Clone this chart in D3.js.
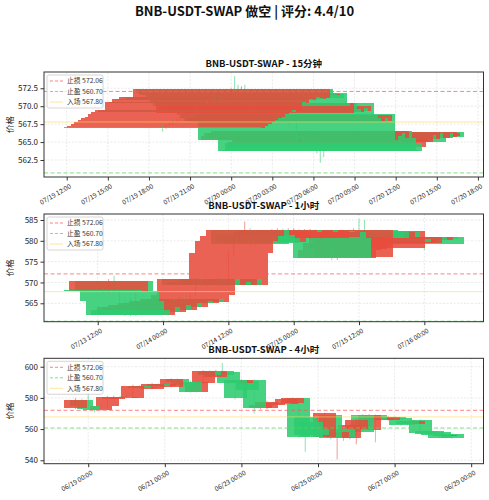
<!DOCTYPE html>
<html><head><meta charset="utf-8">
<script src="https://cdn.jsdelivr.net/npm/d3@7"></script>
<style>
body{margin:0;background:#fff}
text{font-family:"Noto Sans CJK SC","DejaVu Sans",sans-serif}
</style>
</head><body>
<svg id="c" width="489" height="500"></svg>
<script>
const mainTitle = "BNB-USDT-SWAP 做空 | 评分: 4.4/10";
const levelNames = ["止损", "止盈", "入场"];
const levelValues = [572.06, 560.70, 567.80];

// ---------- 15 minute ----------
const m15Title = "BNB-USDT-SWAP - 15分钟";
const m15Start = "2025-07-19 19:00", m15Step = 15;
const m15Open  = [567.15,566.90,567.30,567.50,567.76,568.08,568.30,568.54,568.87,569.15,569.43,569.25,569.40,570.63,570.45,570.96,570.80,571.24,571.10,571.00,571.20,572.36,571.80,571.50,571.70,571.80,570.40,569.00,570.40,569.60,569.20,569.80,569.40,570.40,568.80,568.40,568.00,568.30,568.00,568.90,565.30,565.80,566.20,565.60,566.60,565.60,563.90,564.90,564.36,565.00,565.05,566.00,565.40,566.20,565.60,565.50,566.30,565.75,565.90,566.45];
const m15High  = [567.40,567.45,567.65,567.90,568.20,568.45,568.70,569.00,569.30,569.60,569.55,569.60,570.80,570.75,571.10,571.10,571.40,571.35,571.20,571.35,572.50,574.20,573.00,572.80,573.00,572.00,570.60,570.60,570.50,569.80,570.10,570.00,570.20,570.60,569.00,568.60,568.50,568.40,569.00,569.10,566.00,566.40,566.30,566.70,566.70,565.80,564.20,565.00,565.30,565.60,566.30,566.20,566.40,566.40,565.80,566.60,566.50,566.60,566.40,566.60];
const m15Low   = [566.45,566.85,567.20,567.40,567.65,567.95,568.20,568.40,568.75,569.00,569.05,569.10,569.30,570.20,570.30,570.60,570.70,570.95,570.85,570.90,571.10,571.60,571.20,571.30,571.00,570.20,569.80,568.80,569.30,568.90,569.00,569.10,569.20,568.50,568.10,567.70,567.80,567.50,567.80,565.00,565.10,565.60,565.40,565.50,565.40,563.40,562.10,562.90,564.10,564.80,564.90,565.20,565.20,565.40,564.80,565.30,565.30,565.60,565.70,565.50];
const m15Close = [566.90,567.30,567.50,567.76,568.08,568.30,568.54,568.87,569.15,569.43,569.25,569.40,570.63,570.45,570.96,570.80,571.24,571.10,571.00,571.20,572.36,571.80,571.50,571.70,571.20,570.40,570.00,570.40,569.60,569.20,569.80,569.40,570.00,568.80,568.40,568.00,568.30,567.80,568.80,565.30,565.80,566.20,565.60,566.60,565.60,563.70,563.70,563.70,565.00,565.40,566.00,565.40,566.20,565.60,565.05,566.30,565.50,566.40,566.30,565.75];

// ---------- 1 hour ----------
const h1Title = "BNB-USDT-SWAP - 1小时";
const h1Start = "2025-07-13 13:00", h1Step = 60;
const h1Open  = [568.10,567.90,570.36,567.96,565.60,563.50,562.20,564.00,563.00,564.50,563.50,565.00,564.00,565.50,565.00,566.00,565.20,567.00,570.80,569.50,570.00,569.50,570.80,569.40,577.00,580.00,581.20,582.60,581.50,580.60,579.80,580.60,581.00,582.60,580.80,580.60,582.60,581.00,580.70,582.40,580.80,582.20,580.60,575.80,577.80,578.00,576.20,582.60,582.40,582.40,580.60,582.00,578.20,580.40,579.50,579.40,581.00,580.20,581.00,580.80];
const h1High  = [568.50,570.80,571.60,568.30,566.00,566.50,567.80,564.50,565.50,566.00,565.40,565.30,566.00,566.00,566.50,566.30,567.40,571.00,571.20,570.50,570.30,571.00,571.00,577.50,580.50,581.80,584.60,583.00,582.60,581.00,581.50,582.80,583.00,582.90,583.00,583.00,582.80,582.80,582.90,582.70,582.60,582.50,581.00,578.30,580.00,581.40,583.00,585.30,585.00,582.60,582.40,582.30,582.60,580.80,580.70,581.40,581.30,581.40,581.20,581.00];
const h1Low   = [567.50,567.60,567.50,565.20,562.00,561.90,562.00,562.60,562.80,563.20,563.20,563.70,563.80,564.70,564.80,564.90,565.00,566.80,569.20,569.00,569.10,569.30,569.00,569.20,576.50,579.50,580.80,578.80,579.00,579.20,579.50,580.30,580.80,581.60,580.50,580.40,581.80,580.70,580.40,581.60,580.50,580.20,575.40,575.40,577.40,577.60,576.00,581.00,580.30,580.40,580.50,580.80,577.80,579.50,579.30,579.20,579.90,579.90,580.30,577.80];
const h1Close = [567.90,570.36,567.96,565.60,562.30,562.10,564.00,563.00,564.50,563.50,565.00,564.00,565.50,565.00,566.00,565.20,567.00,570.80,569.50,570.00,569.50,570.80,569.40,577.00,580.00,581.20,582.60,579.20,579.80,579.50,581.00,582.00,582.60,582.00,582.40,582.60,582.20,582.50,582.40,582.00,582.20,580.60,575.80,577.80,579.50,581.00,582.60,581.40,580.60,580.60,582.00,581.00,582.40,579.80,580.50,581.00,580.20,581.00,580.50,579.20];

// ---------- 4 hour ----------
const h4Title = "BNB-USDT-SWAP - 4小时";
const h4Start = "2025-06-18 16:00", h4Step = 240;
const h4Open  = [573.30,578.40,574.50,573.00,572.50,574.50,579.50,580.80,580.20,580.10,587.60,586.10,586.00,588.70,587.50,587.20,591.90,590.50,590.40,584.00,589.30,597.20,593.60,597.00,596.40,591.50,589.30,591.00,591.50,573.30,573.30,575.50,577.00,575.90,576.50,579.70,568.00,564.80,560.00,555.20,569.00,554.50,560.00,554.10,560.00,569.00,559.40,569.00,566.00,565.80,568.00,567.30,565.00,563.10,565.80,558.80,558.80,558.40,555.30,556.90];
const h4High  = [580.00,579.50,583.00,574.00,575.50,581.20,581.50,581.30,582.00,588.50,588.20,587.50,589.50,589.20,589.80,592.50,592.40,591.00,591.00,590.50,597.80,597.60,598.00,602.30,597.00,592.00,592.00,591.50,592.00,576.00,578.20,577.60,577.50,579.50,580.20,580.00,568.50,565.50,560.50,570.60,569.50,558.50,560.50,563.00,566.50,569.50,569.50,569.30,568.00,568.50,568.30,567.80,565.50,565.80,566.20,559.20,559.00,558.80,556.80,557.20];
const h4Low   = [572.80,574.00,572.50,570.70,571.80,574.00,579.00,579.60,579.80,579.80,585.60,585.80,585.50,586.80,587.00,586.80,590.00,587.50,583.50,583.60,589.00,594.00,593.00,594.50,588.80,579.00,588.80,584.50,570.00,572.80,572.80,575.00,575.50,575.50,576.00,554.50,545.50,554.80,555.00,554.80,553.50,540.50,552.40,553.50,550.20,558.00,559.00,551.50,565.50,565.40,566.00,562.20,562.50,562.80,556.80,556.50,555.80,554.20,554.90,553.80];
const h4Close = [578.70,574.50,573.00,572.40,574.50,580.50,580.80,580.20,580.80,587.60,586.10,587.00,588.70,587.50,589.00,591.90,590.50,588.00,584.00,590.00,597.20,594.50,597.20,595.00,589.30,579.70,591.50,585.00,573.30,575.50,577.60,577.00,576.00,579.00,579.70,555.20,556.00,555.20,556.00,570.10,554.10,558.00,555.00,562.60,566.00,558.40,569.00,566.00,567.50,568.00,566.50,562.60,563.00,565.40,557.30,557.00,556.20,554.60,556.40,554.10];

// tick settings
const yTicks1 = [562.5, 565.0, 567.5, 570.0, 572.5];
const yTicks2 = [565, 570, 575, 580, 585];
const yTicks3 = [540, 560, 580, 600];
const yDomains = [[560.13, 574.77], [560.58, 586.44], [537.8, 605.4]];

const parse = d3.timeParse("%Y-%m-%d %H:%M");
const fmt = d3.timeFormat("%m/%d %H:%M");

const panels = [
  {title: m15Title, start: m15Start, step: m15Step, o: m15Open, h: m15High, l: m15Low, c: m15Close,
   yTicks: yTicks1, yFmt: d3.format(".1f"), yDom: yDomains[0], xInt: d3.timeHour.every(3), top: 72, bottom: 177},
  {title: h1Title, start: h1Start, step: h1Step, o: h1Open, h: h1High, l: h1Low, c: h1Close,
   yTicks: yTicks2, yFmt: d3.format("d"), yDom: yDomains[1], xInt: d3.timeHour.every(12), top: 214, bottom: 321.7},
  {title: h4Title, start: h4Start, step: h4Step, o: h4Open, h: h4High, l: h4Low, c: h4Close,
   yTicks: yTicks3, yFmt: d3.format("d"), yDom: yDomains[2], xInt: d3.timeDay.every(2), top: 358.3, bottom: 463.7}
];

const svg = d3.select("#c");
const L = 44, R = 483.5;
const HALF = 0.3 * 86400000; // bar width 0.6 day
const upC = "#e74c3c", dnC = "#2ecc71";

svg.append("text").attr("x", 244.5).attr("y", 16).attr("text-anchor", "middle")
  .attr("font-size", 13).attr("font-weight", "bold").attr("fill", "#111").text(mainTitle);

panels.forEach((p, pi) => {
  const t0 = parse(p.start);
  const times = p.o.map((_, i) => new Date(t0.getTime() + i * p.step * 60000));
  const lo = times[0].getTime() - HALF, hi = times[times.length - 1].getTime() + HALF;
  const m = (hi - lo) * 0.05;
  const x = d3.scaleTime().domain([new Date(lo - m), new Date(hi + m)]).range([L, R]);
  const y = d3.scaleLinear().domain(p.yDom).range([p.bottom, p.top]);
  const g = svg.append("g");
  const cid = "clip" + pi;
  svg.append("clipPath").attr("id", cid).append("rect")
    .attr("x", L).attr("y", p.top).attr("width", R - L).attr("height", p.bottom - p.top);

  // grid
  const xt = x.ticks(p.xInt).filter(d => x(d) >= L && x(d) <= R);
  g.selectAll(".gx").data(xt).join("line")
    .attr("x1", d => x(d)).attr("x2", d => x(d)).attr("y1", p.top).attr("y2", p.bottom)
    .attr("stroke", "#dcdcdc").attr("stroke-width", 0.6).attr("stroke-dasharray", "2,1.5");
  g.selectAll(".gy").data(p.yTicks).join("line")
    .attr("x1", L).attr("x2", R).attr("y1", d => y(d)).attr("y2", d => y(d))
    .attr("stroke", "#dcdcdc").attr("stroke-width", 0.6).attr("stroke-dasharray", "2,1.5");

  const plot = g.append("g").attr("clip-path", `url(#${cid})`);
  // candles: newest first, oldest drawn last (on top)
  for (let i = p.o.length - 1; i >= 0; i--) {
    const up = p.c[i] >= p.o[i];
    const col = up ? upC : dnC;
    const tx = times[i].getTime();
    plot.append("line").attr("x1", x(times[i])).attr("x2", x(times[i]))
      .attr("y1", y(p.h[i])).attr("y2", y(p.l[i]))
      .attr("stroke", col).attr("stroke-width", 1).attr("opacity", 0.55);
    const yt = y(Math.max(p.o[i], p.c[i])), yb = y(Math.min(p.o[i], p.c[i]));
    plot.append("rect").attr("x", x(new Date(tx - HALF))).attr("width", x(new Date(tx + HALF)) - x(new Date(tx - HALF)))
      .attr("y", yt).attr("height", Math.max(yb - yt, 0.8))
      .attr("fill", col).attr("opacity", 0.88).attr("shape-rendering", "crispEdges");
  }

  // level lines
  const lv = [
    {v: levelValues[0], c: "#ff5a5a", dash: "4,2.5", op: 0.75, lab: levelNames[0]},
    {v: levelValues[1], c: "#5ad65a", dash: "4,2.5", op: 0.75, lab: levelNames[1]},
    {v: levelValues[2], c: "#ffd75a", dash: null, op: 0.6, lab: levelNames[2]}
  ];
  lv.forEach(d => {
    const ln = plot.append("line").attr("x1", L).attr("x2", R).attr("y1", y(d.v)).attr("y2", y(d.v))
      .attr("stroke", d.c).attr("stroke-width", 1).attr("opacity", d.op);
    if (d.dash) ln.attr("stroke-dasharray", d.dash);
  });

  // frame
  g.append("rect").attr("x", L).attr("y", p.top).attr("width", R - L).attr("height", p.bottom - p.top)
    .attr("fill", "none").attr("stroke", "#333").attr("stroke-width", 1);

  // y axis
  const ya = g.append("g").attr("transform", `translate(${L},0)`)
    .call(d3.axisLeft(y).tickValues(p.yTicks).tickFormat(p.yFmt).tickSize(3.5).tickPadding(2.5));
  ya.select(".domain").remove();
  ya.selectAll("text").attr("font-size", 8).attr("fill", "#222");
  ya.selectAll("line").attr("stroke", "#333");
  // x axis
  const xa = g.append("g").attr("transform", `translate(0,${p.bottom})`)
    .call(d3.axisBottom(x).tickValues(xt).tickFormat(fmt).tickSize(3.5).tickPadding(2));
  xa.select(".domain").remove();
  xa.selectAll("line").attr("stroke", "#333");
  xa.selectAll("text").attr("font-size", 6.5).attr("fill", "#222")
    .attr("text-anchor", "end").attr("dy", "0.5em")
    .attr("transform", "translate(0,3) rotate(-30)");

  // y label
  g.append("text").attr("transform", `translate(13,${(p.top + p.bottom) / 2}) rotate(-90)`)
    .attr("text-anchor", "middle").attr("font-size", 8.5).attr("fill", "#222").text("价格");
  // subplot title
  g.append("text").attr("x", (L + R) / 2).attr("y", p.top - 5).attr("text-anchor", "middle")
    .attr("font-size", 9.5).attr("font-weight", "bold").attr("fill", "#111").text(p.title);

  // legend
  const lg = g.append("g").attr("transform", `translate(${L + 3},${p.top + 3})`);
  lg.append("rect").attr("width", 56).attr("height", 33).attr("rx", 2)
    .attr("fill", "#fff").attr("fill-opacity", 0.85).attr("stroke", "#ccc").attr("stroke-width", 0.8);
  lv.forEach((d, i) => {
    const yy = 6 + i * 10.5;
    const ln = lg.append("line").attr("x1", 3).attr("x2", 16).attr("y1", yy).attr("y2", yy)
      .attr("stroke", d.c).attr("stroke-width", 1).attr("opacity", d.op);
    if (d.dash) ln.attr("stroke-dasharray", "3,2");
    lg.append("text").attr("x", 20).attr("y", yy + 2.4).attr("font-size", 6.8).attr("fill", "#333")
      .text(`${d.lab} ${levelValues[i].toFixed(2)}`);
  });
});
</script>
</body></html>
